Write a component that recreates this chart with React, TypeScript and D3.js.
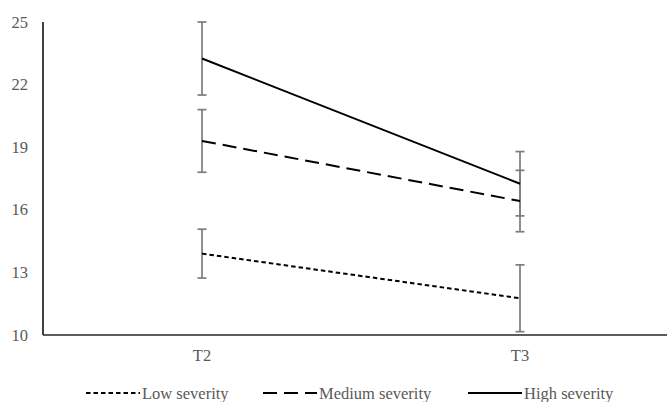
import React from "react";
import * as d3 from "d3";

const categories = ["T2", "T3"];
const seriesNames = ["Low severity", "Medium severity", "High severity"];
const lowMeans = [13.9, 11.76];
const lowErr = [1.17, 1.6];
const mediumMeans = [19.3, 16.42];
const mediumErr = [1.5, 1.47];
const highMeans = [23.25, 17.25];
const highErr = [1.75, 1.54];
const yTicks = [10, 13, 16, 19, 22, 25];

const W = 667;
const H = 402;
const left = 43;
const right = 679;
const top = 22;
const bottom = 335;

const series = [
  { name: seriesNames[0], means: lowMeans, err: lowErr, dash: "4.5,3" },
  { name: seriesNames[1], means: mediumMeans, err: mediumErr, dash: "14,7" },
  { name: seriesNames[2], means: highMeans, err: highErr, dash: null as string | null },
];

const legendItems = [
  { lineX: 86, textX: 142 },
  { lineX: 263, textX: 319 },
  { lineX: 468, textX: 524 },
];

export default function App() {
  const x = d3.scaleBand<string>().domain(categories).range([left, right]).padding(0);
  const y = d3.scaleLinear().domain([10, 25]).range([bottom, top]);
  const cx = (c: string) => (x(c) as number) + x.bandwidth() / 2;
  const line = d3
    .line<number>()
    .x((_, i) => cx(categories[i]))
    .y((d) => y(d));
  const font = "'Liberation Serif', 'Times New Roman', serif";
  const textColor = "#595959";

  return (
    <svg
      width={W}
      height={H}
      style={{ position: "absolute", left: 0, top: 0, background: "#fff" }}
    >
      {/* axes */}
      <line x1={left} x2={left} y1={top} y2={bottom} stroke="#000" strokeWidth={1.5} />
      <line x1={left} x2={right} y1={bottom} y2={bottom} stroke="#262626" strokeWidth={1.5} />
      {yTicks.map((t) => (
        <text
          key={t}
          x={28}
          y={y(t)}
          textAnchor="end"
          dominantBaseline="central"
          fontFamily={font}
          fontSize={16.5}
          fill={textColor}
        >
          {t}
        </text>
      ))}
      {categories.map((c) => (
        <text
          key={c}
          x={cx(c)}
          y={361}
          textAnchor="middle"
          fontFamily={font}
          fontSize={16.5}
          fill={textColor}
        >
          {c}
        </text>
      ))}
      {/* error bars */}
      {series.map((s) =>
        s.means.map((m, i) => {
          const xc = cx(categories[i]);
          const y1 = y(m + s.err[i]);
          const y2 = y(m - s.err[i]);
          return (
            <g key={s.name + i} stroke="#7f7f7f" strokeWidth={1.75}>
              <line x1={xc} x2={xc} y1={y1} y2={y2} />
              <line x1={xc - 4.5} x2={xc + 4.5} y1={y1} y2={y1} />
              <line x1={xc - 4.5} x2={xc + 4.5} y1={y2} y2={y2} />
            </g>
          );
        })
      )}
      {/* lines */}
      {series.map((s) => (
        <path
          key={s.name}
          d={line(s.means) || ""}
          fill="none"
          stroke="#000"
          strokeWidth={2}
          strokeDasharray={s.dash || undefined}
        />
      ))}
      {/* legend */}
      {series.map((s, i) => (
        <g key={"lg" + s.name}>
          <line
            x1={legendItems[i].lineX}
            x2={legendItems[i].lineX + 54}
            y1={393}
            y2={393}
            stroke="#000"
            strokeWidth={2}
            strokeDasharray={s.dash || undefined}
          />
          <text
            x={legendItems[i].textX}
            y={398.5}
            fontFamily={font}
            fontSize={16.5}
            fill={textColor}
          >
            {s.name}
          </text>
        </g>
      ))}
    </svg>
  );
}
